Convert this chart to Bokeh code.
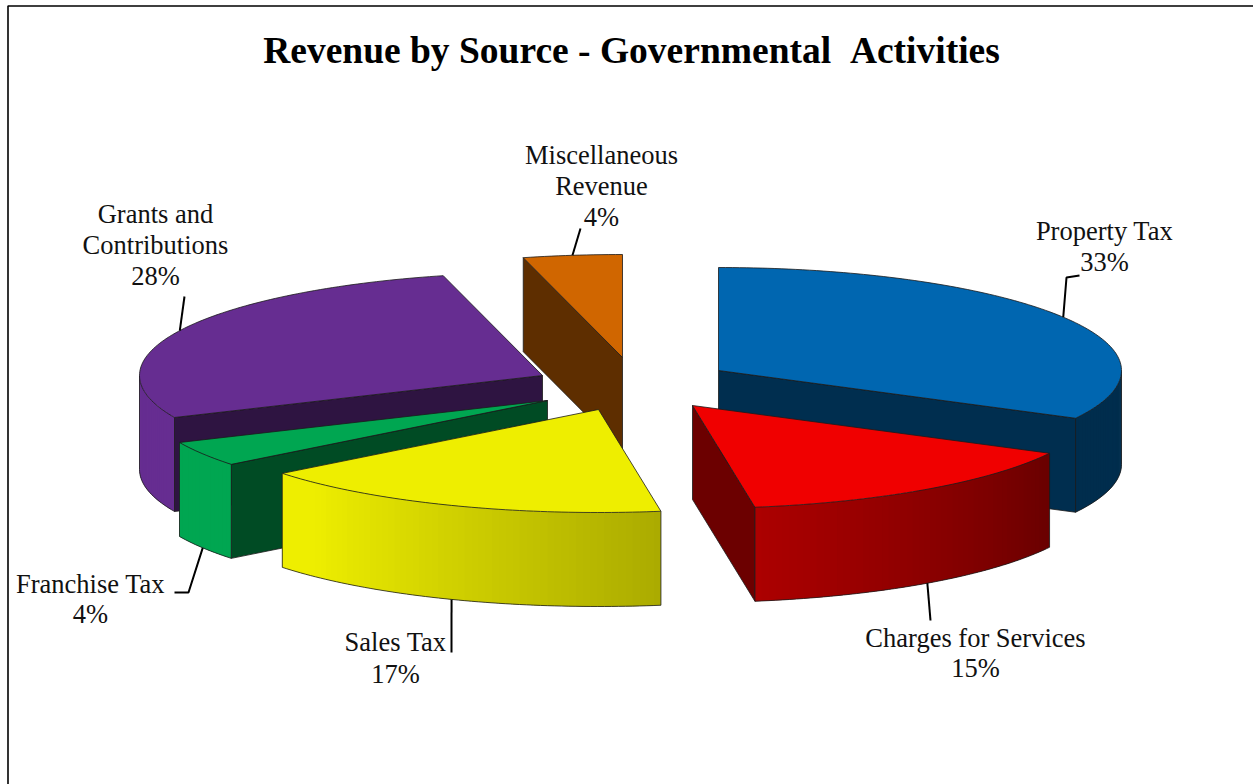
import math
from bokeh.core.properties import value
from bokeh.embed import file_html
from bokeh.plotting import figure
from bokeh.resources import INLINE

# Revenue shares in percent, clockwise from twelve o'clock
sources = ["Property Tax", "Charges for Services", "Sales Tax",
           "Franchise Tax", "Grants and Contributions", "Miscellaneous Revenue"]
shares = [33, 15, 17, 4, 28, 4]
top_colors = ["#0066b0", "#f00000", "#eeee00", "#00a651", "#662d91", "#d06600"]

# How far each slice is pulled out of the pie, in pixels on the page
pull_x = [93, 67, -27, -78, -83, -3]
pull_y = [-15, 20, 24, 15, -10, -28]

# Projection of the tilted pie on the page, in pixels
CX, CY = 625, 385
RX, RY = 403, 103
DEPTH = 94
FONT = "Liberation Serif"
EDGE = "#1a1a1a"

p = figure(width=1253, height=784, x_range=(0, 1253), y_range=(784, 0),
           output_backend="svg", toolbar_location=None, min_border=0,
           outline_line_color=None, background_fill_color="white")
p.axis.visible = False
p.grid.visible = False


def shaded(hex_color, k):
    rgb = [int(hex_color[i:i + 2], 16) for i in (1, 3, 5)]
    return "#%02x%02x%02x" % tuple(min(255, round(c * k)) for c in rgb)


def wall_light(deg):
    # Outer wall brightness: full on the left, fading towards the right
    if deg >= 225:
        return 1.0
    if deg <= 118:
        return 0.44
    return 0.44 + (deg - 118) / (225 - 118) * 0.56


def rim(ax, ay, deg):
    t = math.radians(deg)
    return ax + RX * math.sin(t), ay - RY * math.cos(t)


total = sum(shares)
slices = []
start = 0.0
for name, share, color, dx, dy in zip(sources, shares, top_colors, pull_x, pull_y):
    end = start + share / total * 360
    slices.append(dict(name=name, share=share, color=color, a=start, b=end,
                       mid=(start + end) / 2, ax=CX + dx, ay=CY + dy))
    start = end


def draw_slice(s):
    ax, ay, a, b, color = s["ax"], s["ay"], s["a"], s["b"], s["color"]

    # Flat faces along the two cut edges, only where they turn towards the viewer
    for deg, normal in ((a, a - 90), (b, b + 90)):
        if math.cos(math.radians(normal - 180)) > 1e-6:
            ex, ey = rim(ax, ay, deg)
            p.patch([ax, ex, ex, ax], [ay, ey, ey + DEPTH, ay + DEPTH],
                    fill_color=shaded(color, 0.45), line_color=EDGE, line_width=0.8)

    # Curved outer wall, as overlapping strips so the light can change along it
    lo, hi = max(a, 90), min(b, 270)
    if hi > lo:
        n = max(2, int((hi - lo) / 1.0))
        degs = [lo + (hi - lo) * i / n for i in range(n + 1)]
        pts = [rim(ax, ay, d) for d in degs]
        for i in range(n):
            x0, y0 = pts[i]
            x1, y1 = pts[min(i + 2, n)]
            xm, ym = pts[i + 1]
            c = shaded(color, wall_light((degs[i] + degs[i + 1]) / 2))
            p.patch([x0, xm, x1, x1, xm, x0],
                    [y0, ym, y1, y1 + DEPTH, ym + DEPTH, y0 + DEPTH],
                    fill_color=c, line_color=None)
        xs = [q[0] for q in pts]
        ys = [q[1] for q in pts]
        p.line(xs, [y + DEPTH for y in ys], line_color=EDGE, line_width=0.8)
        p.line([xs[0], xs[0]], [ys[0], ys[0] + DEPTH], line_color=EDGE, line_width=0.8)
        p.line([xs[-1], xs[-1]], [ys[-1], ys[-1] + DEPTH], line_color=EDGE, line_width=0.8)

    # Top face
    n = max(2, int(b - a))
    arc = [rim(ax, ay, a + (b - a) * i / n) for i in range(n + 1)]
    p.patch([ax] + [q[0] for q in arc], [ay] + [q[1] for q in arc],
            fill_color=color, line_color=EDGE, line_width=0.8, line_join="miter")


# Painted from the back of the pie to the front
paint_order = [5, 4, 0, 3, 2, 1]
for idx in paint_order:
    draw_slice(slices[idx])

# Leader lines run from the rim at each slice's middle angle to its label
elbows = {
    "Property Tax": ([1066, 1079], [277, 275]),
    "Charges for Services": ([930], [620]),
    "Sales Tax": ([451], [652]),
    "Franchise Tax": ([188, 174], [592, 592]),
    "Grants and Contributions": ([184], [296]),
    "Miscellaneous Revenue": ([580], [228]),
}
for s in slices:
    x0, y0 = rim(s["ax"], s["ay"], s["mid"])
    if 90 < s["mid"] < 270:
        y0 += DEPTH
    ex, ey = elbows[s["name"]]
    p.line([x0] + ex, [y0] + ey, line_color="black", line_width=2)

# Label rows: wrapped source name, then the share
label_rows = {
    "Property Tax": (1104, [230, 261], ["Property Tax"]),
    "Charges for Services": (975, [637, 667], ["Charges for Services"]),
    "Sales Tax": (395, [641, 673], ["Sales Tax"]),
    "Franchise Tax": (90, [583, 613], ["Franchise Tax"]),
    "Grants and Contributions": (155, [213, 244, 275], ["Grants and", "Contributions"]),
    "Miscellaneous Revenue": (601, [154, 185, 216], ["Miscellaneous", "Revenue"]),
}
for s in slices:
    x, ys, rows = label_rows[s["name"]]
    rows = rows + [f'{s["share"]}%']
    p.text([x] * len(rows), ys, text=rows, text_font=value(FONT), text_font_size="26.5px",
           text_color="#111111", text_align="center", text_baseline="middle")

p.text([631], [50], text=["Revenue by Source - Governmental\u00a0\u00a0Activities"],
       text_font=value(FONT), text_font_style="bold", text_font_size="37.5px",
       text_color="black", text_align="center", text_baseline="middle")

# Chart frame
p.line([7.5, 7.5, 1253], [784, 5.5, 5.5], line_color="black", line_width=1.6)

open("out.html", "w").write(file_html(p, INLINE))
